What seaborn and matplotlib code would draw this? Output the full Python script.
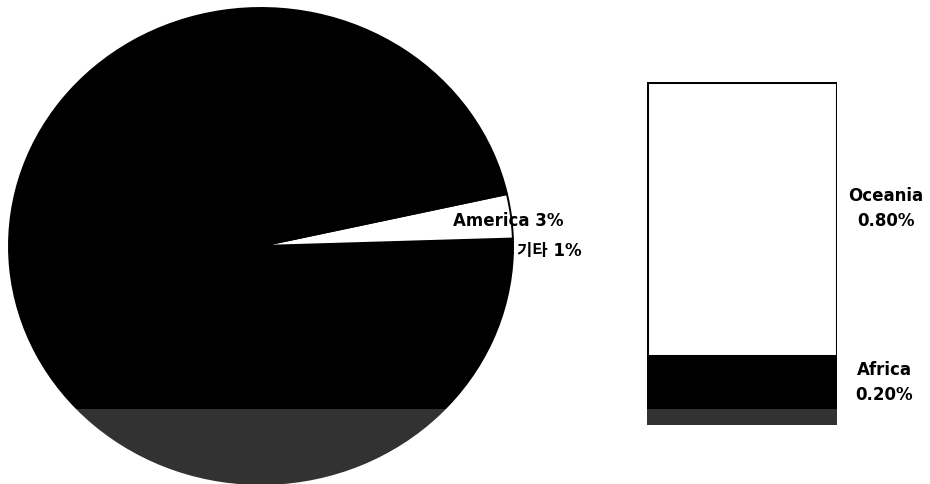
import matplotlib
matplotlib.use("Agg")
import matplotlib.pyplot as plt
import seaborn as sns
import pandas as pd
from matplotlib.patches import Rectangle

# ---- data ----
pie_labels = ["기타", "America", "Asia"]
pie_values = [1, 3, 96]
pie_colors = ["#000000", "#ffffff", "#000000"]

bar_labels = ["Africa", "Oceania"]
bar_values = [0.20, 0.80]
bar_colors = ["#000000", "#ffffff"]

sns.set_theme(style="white")
plt.rcParams["font.family"] = ["DejaVu Sans", "Noto Sans CJK KR"]

W, H = 930, 484
fig = plt.figure(figsize=(W / 100, H / 100), dpi=100)
fig.patch.set_facecolor("white")

def px_axes(x0, y0, x1, y1):
    return fig.add_axes([x0 / W, 1 - y1 / H, (x1 - x0) / W, (y1 - y0) / H])

# ---- pie (slightly elliptical, as in the scan) ----
axp = px_axes(9, 8, 513, 484)
wedges, _ = axp.pie(
    pie_values, colors=pie_colors, startangle=-1.8, counterclock=True,
    wedgeprops=dict(edgecolor="black", linewidth=1.4), radius=1.0,
)
axp.set_aspect("auto")
axp.set_xlim(-1, 1)
axp.set_ylim(-1, 1)
axp.axis("off")

# ---- stacked bar ----
axb = px_axes(647, 82, 837, 425)
cum = pd.Series(bar_values).cumsum().tolist()
df_top = pd.DataFrame({"g": ["x"], "v": [cum[1]]})
df_bot = pd.DataFrame({"g": ["x"], "v": [cum[0]]})
sns.barplot(data=df_top, x="g", y="v", color=bar_colors[1], width=1.0,
            edgecolor="black", linewidth=2.2, ax=axb, saturation=1)
sns.barplot(data=df_bot, x="g", y="v", color=bar_colors[0], width=1.0,
            edgecolor="black", linewidth=2.2, ax=axb, saturation=1)
axb.set_xlim(-0.5, 0.5)
axb.set_ylim(0, cum[1])
axb.axis("off")

# ---- labels ----
fs = 12
def ftext(x, y, s, ha="left"):
    fig.text(x / W, 1 - y / H, s, ha=ha, va="center", fontsize=fs,
             fontweight="bold", color="black")

ftext(453, 221, f"{pie_labels[1]} {pie_values[1]}%")
ftext(517, 251, f"{pie_labels[0]} {pie_values[0]}%")
ftext(886, 196, bar_labels[1], ha="center")
ftext(886, 221, f"{bar_values[1]:.2f}%", ha="center")
ftext(884, 370, bar_labels[0], ha="center")
ftext(884, 395, f"{bar_values[0]:.2f}%", ha="center")

# ---- scan watermark band ----
fig.patches.append(Rectangle((0, 0), 1, (H - 409) / H, transform=fig.transFigure,
                             facecolor="white", alpha=0.2, edgecolor="none",
                             zorder=100))

fig.savefig("out.png", dpi=100, facecolor="white")
